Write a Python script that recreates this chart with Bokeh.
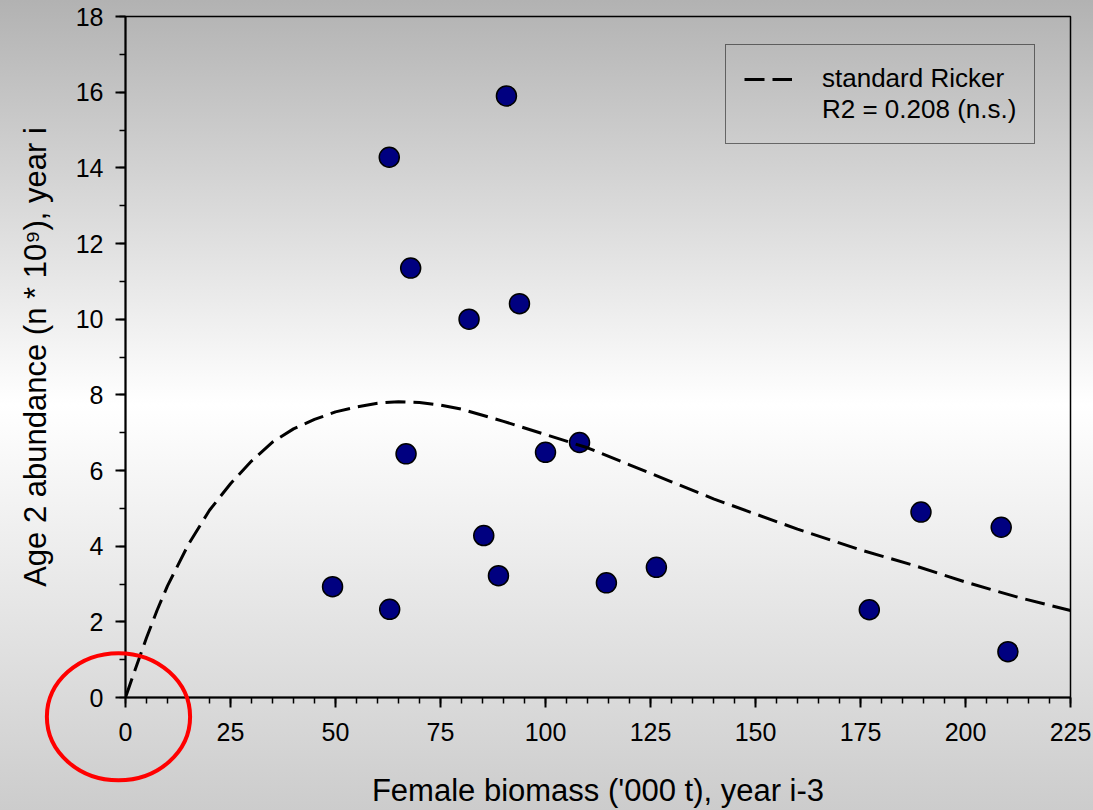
import numpy as np
from bokeh.plotting import figure
from bokeh.models import FixedTicker, Legend, LegendItem, Range1d
from bokeh.embed import file_html
from bokeh.resources import INLINE

# Observed data: female biomass ('000 t, year i-3) vs age-2 abundance (n*10^9, year i)
biomass = [49.3, 62.9, 66.8, 85.3, 88.8, 100.0, 108.1, 114.5, 126.4,
           90.7, 62.8, 67.9, 81.8, 93.8, 189.4, 208.5, 177.1, 210.1]
age2 = [2.93, 2.33, 6.44, 4.28, 3.22, 6.48, 6.74, 3.03, 3.44,
        15.9, 14.28, 11.35, 10.0, 10.41, 4.90, 4.50, 2.32, 1.21]

# Standard Ricker curve
curve_x = [0, 2.5, 5, 7.5, 10, 15, 20, 25, 30, 35, 40, 45, 50, 55, 60, 65, 70,
           75, 80, 90, 100, 110, 120, 130, 140, 150, 160, 175, 187.5, 200,
           212.5, 225]
curve_y = [0, 0.8, 1.58, 2.3, 2.95, 4.05, 4.95, 5.65, 6.25, 6.75, 7.1, 7.35,
           7.55, 7.68, 7.78, 7.82, 7.8, 7.73, 7.62, 7.3, 6.95, 6.6, 6.15, 5.7,
           5.25, 4.85, 4.45, 3.9, 3.5, 3.05, 2.65, 2.3]

x_ticks = [0, 25, 50, 75, 100, 125, 150, 175, 200, 225]
x_minor = list(range(0, 226, 5))
y_ticks = [0, 2, 4, 6, 8, 10, 12, 14, 16, 18]
y_minor = list(range(0, 19, 1))

legend_labels = ["standard Ricker", "R2 = 0.208 (n.s.)"]
x_label = "Female biomass ('000 t), year i-3"
y_label = "Age 2 abundance (n * 10\u2079), year i"

FONT = "Liberation Sans"

p = figure(width=1093, height=810, output_backend="svg", toolbar_location=None,
           x_range=Range1d(0, 225), y_range=Range1d(0, 18),
           min_border_left=125, min_border_right=23,
           min_border_top=16, min_border_bottom=113)

p.styles = {"background": "linear-gradient(to bottom, #b2b2b2 0%, #ffffff 50%, #cccccc 100%)"}
p.background_fill_alpha = 0
p.border_fill_alpha = 0
p.grid.visible = False
p.outline_line_color = "black"
p.outline_line_width = 1.5
p.outline_line_alpha = 1

p.xaxis.ticker = FixedTicker(ticks=x_ticks, minor_ticks=x_minor)
p.yaxis.ticker = FixedTicker(ticks=y_ticks, minor_ticks=y_minor)
for ax in (p.xaxis[0], p.yaxis[0]):
    ax.axis_line_width = 2
    ax.axis_line_color = "black"
    ax.major_tick_line_width = 2
    ax.minor_tick_line_width = 1.5
    ax.major_tick_out = 10
    ax.major_tick_in = 0
    ax.minor_tick_out = 6
    ax.minor_tick_in = 0
    ax.major_label_text_font = FONT
    ax.major_label_text_font_size = "25px"
    ax.major_label_text_color = "black"
    ax.axis_label_text_font = FONT
    ax.axis_label_text_font_size = "31px"
    ax.axis_label_text_font_style = "normal"
    ax.axis_label_text_color = "black"

p.xaxis.axis_label = x_label
p.yaxis.axis_label = y_label
p.xaxis.major_label_standoff = 15
p.yaxis.major_label_standoff = 12
p.xaxis.axis_label_standoff = 29
p.yaxis.axis_label_standoff = 20

p.scatter(biomass, age2, size=20, fill_color="#000080", line_color="black", line_width=1.5)
r_curve = p.line(curve_x, curve_y, line_color="black", line_width=3, line_dash="20 8")
r_dummy = p.line([], [], line_alpha=0)

legend = Legend(items=[LegendItem(label=legend_labels[0], renderers=[r_curve]),
                       LegendItem(label=legend_labels[1], renderers=[r_dummy])],
                location=(600, 553), orientation="vertical",
                label_text_font=FONT, label_text_font_size="26px",
                label_text_color="black",
                glyph_width=48, glyph_height=26, label_height=26,
                label_standoff=30, spacing=0, padding=18, margin=0,
                border_line_color="black", border_line_width=1,
                background_fill_alpha=0)
p.add_layout(legend)

# Red highlight ellipse around the origin (data units), drawn unclipped
ell_cx, ell_cy, ell_w, ell_h = -1.67, -0.51, 34.1, 3.36
p.ellipse(x=[ell_cx], y=[ell_cy], width=ell_w, height=ell_h,
          fill_alpha=0, line_color="#ff0000", line_width=4, level="overlay")

open("out.html", "w").write(file_html(p, INLINE))
